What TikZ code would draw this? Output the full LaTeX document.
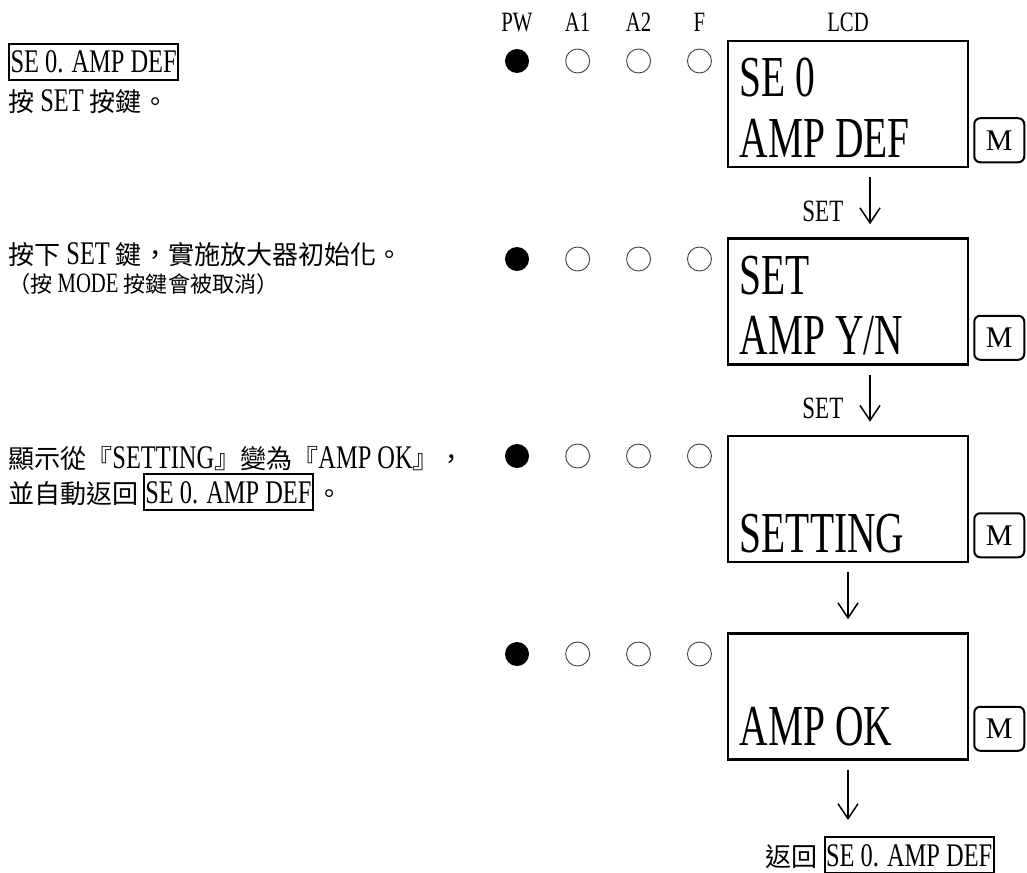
\documentclass[tikz,border=0pt]{standalone}
\usepackage{fontspec}
\setmainfont{Liberation Serif}[FakeStretch=0.74]
\newfontfamily\cjk{Noto Sans CJK TC}[Scale=0.79]
\newfontfamily\lcdfont{Liberation Serif}[FakeStretch=0.68]
\newfontfamily\keyfont{Liberation Serif}
\newcommand{\zh}[1]{{\cjk #1}}
\usetikzlibrary{arrows.meta,positioning}

\begin{document}
\begin{tikzpicture}[x=1pt, y=-1pt,
  node distance=69pt and 36pt,
  txt/.style={font=\fontsize{33}{38}\selectfont, inner sep=0pt, anchor=base west},
  note/.style={txt, font=\fontsize{28}{32}\selectfont},
  tag/.style={draw, line width=2pt, inner xsep=1.5pt, inner ysep=7pt, font=\fontsize{33}{38}\selectfont},
  head/.style={font=\fontsize{28}{32}\selectfont, inner sep=0pt},
  lcd/.style={rectangle, draw, line width=2.5pt, minimum width=240pt, minimum height=126pt},
  lcdtxt/.style={font=\lcdfont\fontsize{58}{66}\selectfont, inner sep=0pt},
  ledon/.style={circle, fill=black, minimum size=24pt, inner sep=0pt},
  ledoff/.style={circle, draw=black!75, line width=0.9pt, minimum size=24pt, inner sep=0pt},
  mkey/.style={rectangle, draw, rounded corners=6pt, line width=2pt, minimum width=50pt, minimum height=44pt, inner sep=0pt, font=\keyfont\fontsize{30}{34}\selectfont},
  setlbl/.style={font=\fontsize{31}{36}\selectfont, inner sep=0pt},
  arrow/.style={-{Straight Barb[length=15pt, width=20pt]}, line width=1.5pt, shorten <=9pt, shorten >=13pt}
]
\useasboundingbox (0,0) rectangle (1027,872);

% LCD panels
\node[lcd] (lcd1) at (848,104) {};
\node[lcd, below=of lcd1] (lcd2) {};
\node[lcd, below=of lcd2] (lcd3) {};
\node[lcd, below=of lcd3] (lcd4) {};

\node[lcdtxt, below right=57pt and 13pt of lcd1.north west, anchor=base west] (lcd1a) {SE 0};
\node[lcdtxt, above right=11pt and 13pt of lcd1.south west, anchor=base west] (lcd1b) {AMP DEF};
\node[lcdtxt, below right=57pt and 13pt of lcd2.north west, anchor=base west] (lcd2a) {SET};
\node[lcdtxt, above right=11pt and 13pt of lcd2.south west, anchor=base west] (lcd2b) {AMP Y/N};
\node[lcdtxt, above right=11pt and 13pt of lcd3.south west, anchor=base west] (lcd3b) {SETTING};
\node[lcdtxt, above right=15pt and 13pt of lcd4.south west, anchor=base west] (lcd4b) {AMP OK};

% mode keys
\node[mkey, above right=5pt and 4pt of lcd1.south east] (m1) {M};
\node[mkey, above right=5pt and 4pt of lcd2.south east] (m2) {M};
\node[mkey, above right=5pt and 4pt of lcd3.south east] (m3) {M};
\node[mkey, above right=9pt and 4pt of lcd4.south east] (m4) {M};

% LEDs
\node[ledon] (pw1) at (517,61) {};
\node[ledoff, right=of pw1] (a1r1) {};
\node[ledoff, right=of a1r1] (a2r1) {};
\node[ledoff, right=of a2r1] (fr1) {};
\node[ledon] (pw2) at (517,259) {};
\node[ledoff, right=of pw2] (a1r2) {};
\node[ledoff, right=of a1r2] (a2r2) {};
\node[ledoff, right=of a2r2] (fr2) {};
\node[ledon] (pw3) at (517,456) {};
\node[ledoff, right=of pw3] (a1r3) {};
\node[ledoff, right=of a1r3] (a2r3) {};
\node[ledoff, right=of a2r3] (fr3) {};
\node[ledon] (pw4) at (517,654) {};
\node[ledoff, right=of pw4] (a1r4) {};
\node[ledoff, right=of a1r4] (a2r4) {};
\node[ledoff, right=of a2r4] (fr4) {};

% headings
\node[head, above=17pt of pw1] (hpw) {PW};
\node[head, above=17pt of a1r1] (ha1) {A1};
\node[head, above=17pt of a2r1] (ha2) {A2};
\node[head, above=17pt of fr1] (hf) {F};
\node[head, above=8pt of lcd1] (hlcd) {LCD};

% left notes
\node[tag, anchor=base west] (tag1) at (8,73) {SE 0. AMP DEF};
\node[txt] (note1) at (8,111) {\zh{按} SET \zh{按鍵。}};
\node[txt] (note2) at (8,264) {\zh{按下} SET \zh{鍵，實施放大器初始化。}};
\node[note] (note2b) at (8,292) {\zh{（按} MODE \zh{按鍵會被取消）}};
\node[txt] (note3) at (8,468) {\zh{顯示從『}SETTING\zh{』變為『}AMP OK\zh{』，}};
\node[txt] (note3b) at (8,503) {\zh{並自動返回}};
\node[tag, base right=4pt of note3b] (tag2) {SE 0. AMP DEF};
\node[txt, base right=2pt of tag2] (note3c) {\zh{。}};

% return
\node[txt] (ret) at (765,866) {\zh{返回}};
\node[tag, base right=6pt of ret] (tag3) {SE 0. AMP DEF};

% flow
\draw[arrow] ([xshift=22pt]lcd1.south) -- node[setlbl, pos=0.62, left=26pt] (set1) {SET} ([xshift=22pt]lcd2.north);
\draw[arrow] ([xshift=22pt]lcd2.south) -- node[setlbl, pos=0.62, left=26pt] (set2) {SET} ([xshift=22pt]lcd3.north);
\draw[arrow] (lcd3.south) -- (lcd4.north);
\draw[arrow, shorten >=16pt] (lcd4.south) -- (lcd4.south |- tag3.north);
\end{tikzpicture}
\end{document}
